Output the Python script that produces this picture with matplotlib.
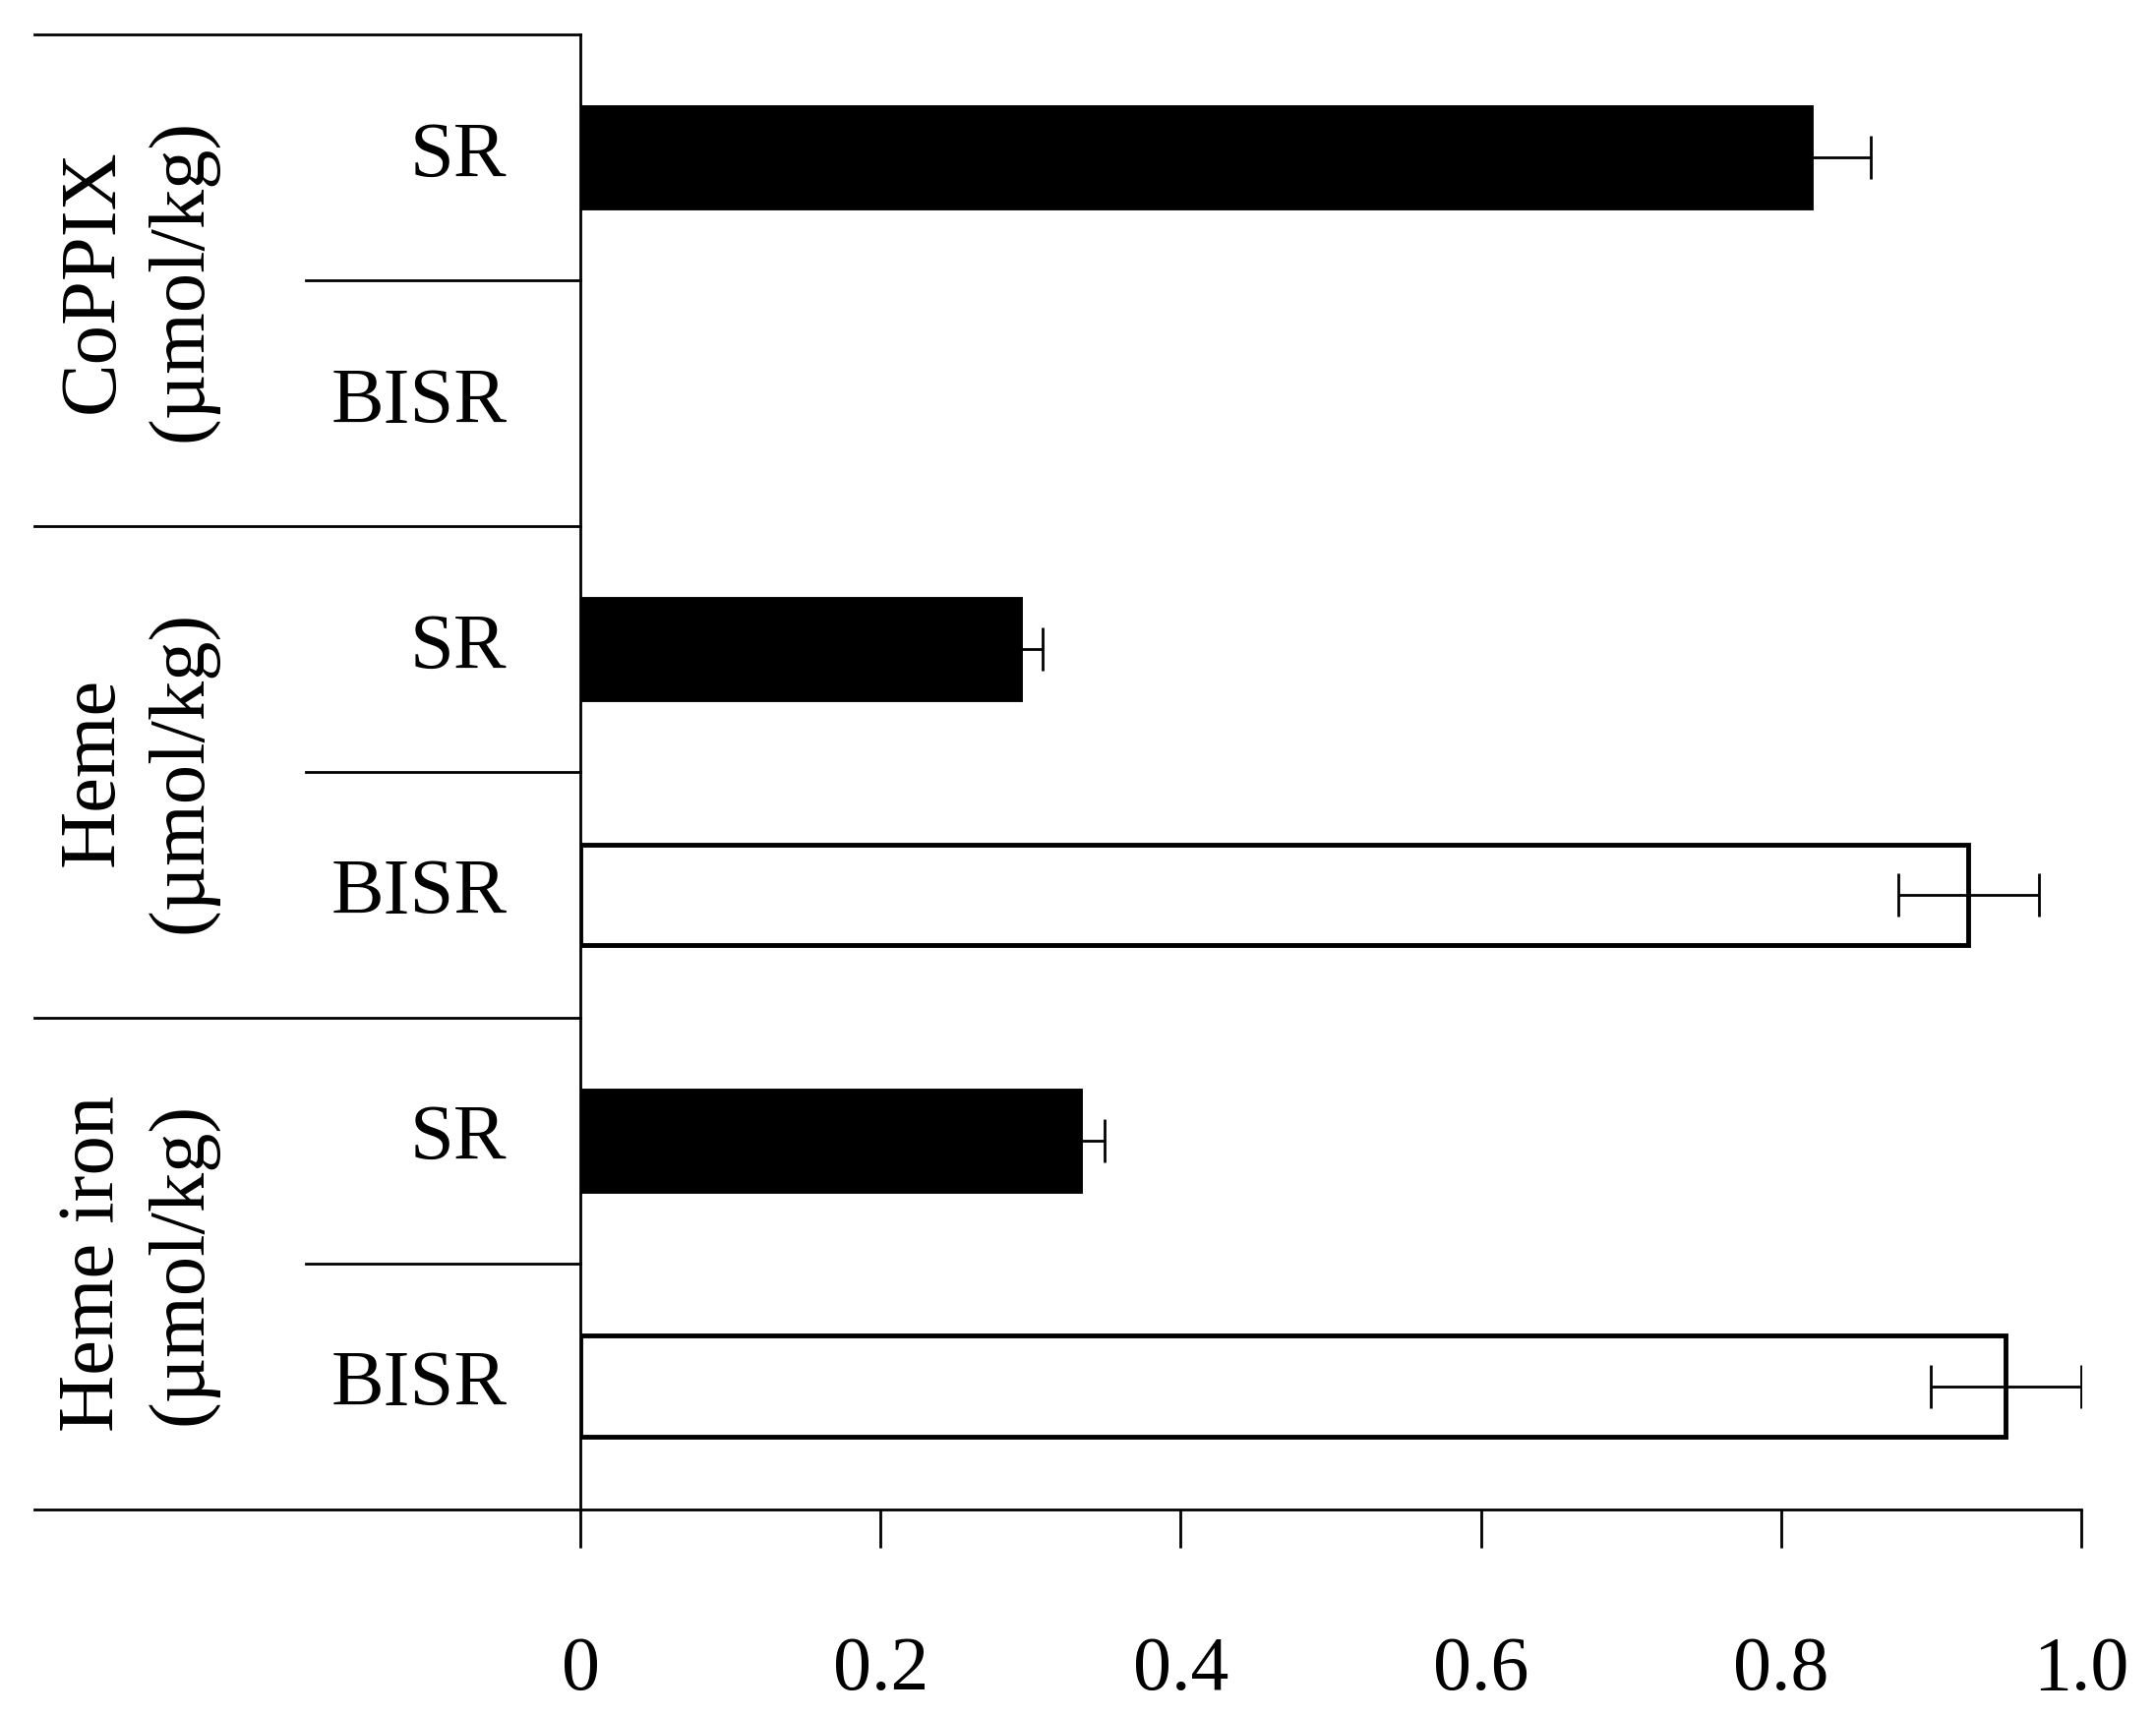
import matplotlib.pyplot as plt
import numpy as np

plt.rcParams['font.family'] = ['Liberation Serif', 'DejaVu Serif']

groups = ["CoPPIX\n(\u00b5mol/kg)", "Heme\n(\u00b5mol/kg)", "Heme iron\n(\u00b5mol/kg)"]
subs = ["SR", "BISR", "SR", "BISR", "SR", "BISR"]
values = [0.82, np.nan, 0.293, 0.925, 0.333, 0.95]
errors = [0.04, np.nan, 0.015, 0.047, 0.016, 0.05]
colors = ["black", "white", "black", "white", "black", "white"]
xticks = [0, 0.2, 0.4, 0.6, 0.8, 1.0]
xticklabels = ["0", "0.2", "0.4", "0.6", "0.8", "1.0"]

fig = plt.figure(figsize=(21.92, 17.45), dpi=100)
ax = fig.add_axes([0.2693, 0.1206, 0.6959, 0.8592])

ypos = np.arange(len(values)) + 0.5
for y, v, e, c in zip(ypos, values, errors, colors):
    if np.isnan(v):
        continue
    ax.barh(y, v, height=0.41, color=c, edgecolor="black", linewidth=3.5)
    ax.errorbar(v, y, xerr=e, fmt="none", ecolor="black", elinewidth=2, capsize=16, capthick=2)

ax.set_xlim(0, 1.0)
ax.set_ylim(6, 0)
for s in ["top", "right", "bottom"]:
    ax.spines[s].set_visible(False)
ax.spines["left"].set_linewidth(2)
ax.set_yticks([])
ax.set_xticks(xticks)
ax.set_xticklabels(xticklabels, fontsize=56)
ax.tick_params(axis="x", direction="out", length=28, width=2, pad=65)

tr = ax.get_yaxis_transform()
# bottom axis line extended under labels
ax.plot([-0.364, 1.0], [6, 6], color="black", lw=2, transform=tr, clip_on=False)
# outer group separators
for yy in [0, 2, 4]:
    ax.plot([-0.364, 0], [yy, yy], color="black", lw=2, transform=tr, clip_on=False)
# inner separators
for yy in [1, 3, 5]:
    ax.plot([-0.183, 0], [yy, yy], color="black", lw=2, transform=tr, clip_on=False)

for y, s in zip(ypos, subs):
    ax.text(-0.049, y, s, transform=tr, ha="right", va="center", fontsize=58)
for i, g in enumerate(groups):
    ax.text(-0.295, 2 * i + 1, g, transform=tr, ha="center", va="center",
            rotation=90, fontsize=58, linespacing=1.3)

fig.savefig("out.png", dpi=100)
